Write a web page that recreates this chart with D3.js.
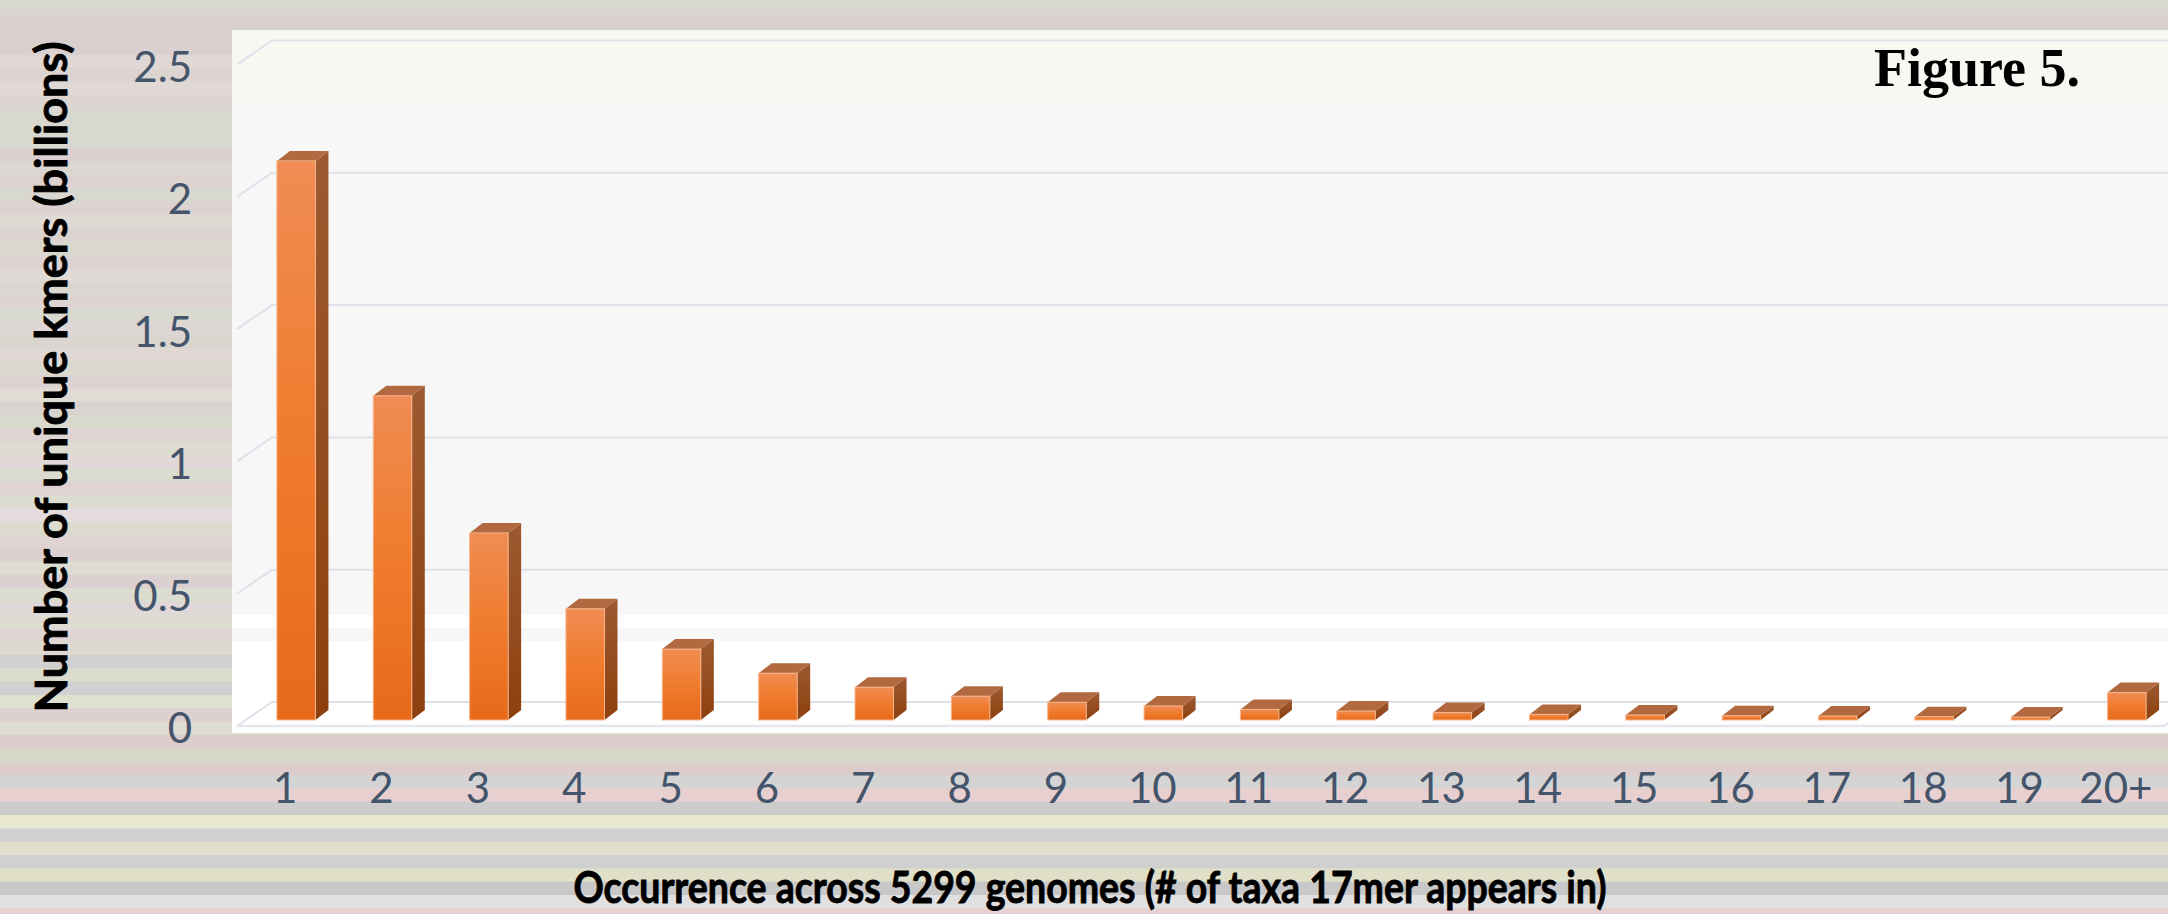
<!DOCTYPE html>
<html>
<head>
<meta charset="utf-8">
<script src="https://cdn.jsdelivr.net/npm/d3@7"></script>
<style>
  body { margin: 0; background: #d9d5d0; }
  svg { display: block; }
</style>
</head>
<body>
<svg id="bar-svg" width="2168" height="914"></svg>
<script>
// ---- data ----
const categories = ['1', '2', '3', '4', '5', '6', '7', '8', '9', '10',
  '11', '12', '13', '14', '15', '16', '17', '18', '19', '20+'];
const counts = [2.113, 1.225, 0.707, 0.42, 0.268, 0.177, 0.124, 0.09, 0.067, 0.053,
  0.040, 0.034, 0.028, 0.021, 0.019, 0.016, 0.015, 0.0125, 0.011, 0.104];
const yTicks = [0, 0.5, 1, 1.5, 2, 2.5];
const xTitle = 'Occurrence across 5299 genomes (# of taxa 17mer appears in)';
const yTitle = 'Number of unique kmers (billions)';
const figureLabel = 'Figure 5.';

// background stripes (top to bottom)
const stripeColors = [
  '#d8d8d0', '#d8d8d0', '#d9cfcf', '#d9cfcf', '#dad0d0', '#e0d8d4', '#dcd4d0', '#e0d8d4',
  '#dcd4d0', '#d8d8d0', '#d8d8d0', '#d9d8d0', '#dcd0d0', '#dad8d0', '#ddd2d0', '#d9d8d0',
  '#dcd2d1', '#e0dad4', '#dcd3d0', '#d9d8cf', '#ddd3d2', '#e0dad6', '#dad6d0', '#ddd3d1',
  '#d9d9d0', '#ded6d4', '#dad6cf', '#e0d6d4', '#d9d9cf', '#dcd2d2', '#e0dcd4', '#dad2d0',
  '#d8d8cc', '#ded4d4', '#dcdcd0', '#e2d8d8', '#dadace', '#e0d2d2', '#dcdcd0', '#e4dcdc',
  '#dcdcce', '#dfd3d3', '#dcd0d0', '#dcdcd0', '#dcd0d0', '#dcdcd0', '#e0d8d8', '#dedcd0',
  '#e0d4d4', '#ddd8d0', '#d0d0d0', '#dcdccc', '#d0d0d0', '#e0e0d0', '#ddd0d0', '#dcdcd0',
  '#dccccc', '#d8d8c8', '#dccccc', '#d4d4d4', '#e8d0d0', '#cccccc', '#e8e8d0', '#d0d0d0',
  '#e0e0cc', '#d0d0d0', '#e0e0c8', '#c8c8c8', '#e0e0e0', '#e8d0d0'
];

// ---- 3D projection constants ----
const floor = { dx: 35, dy: 24 };      // depth of the floor
const barShift = { dx: 11, dy: 6 };    // front face of bars, behind the floor front
const barDepth = { dx: 13, dy: 10 };   // depth of each bar

const svg = d3.select('#bar-svg');

const xScale = d3.scaleBand().domain(categories).range([237, 2164]).padding(0);
const yScale = d3.scaleLinear().domain([0, 2.5]).range([726, 64.5]);
const barWidth = xScale.bandwidth() / 2.5;

/**
 * Paints the striped backdrop
 */
function drawBackground() {
  const h = 40 / 3;
  svg.append('g')
    .selectAll('rect')
    .data(stripeColors)
    .enter()
    .append('rect')
    .attr('x', 0)
    .attr('y', (d, i) => -11.63 + i * h)
    .attr('width', 2168)
    .attr('height', h + 0.5)
    .attr('fill', (d) => d);
}

/**
 * Plot area, back wall, gridlines and floor
 */
function drawWalls() {
  const g = svg.append('g');
  g.append('rect').attr('x', 232).attr('y', 30).attr('width', 1940).attr('height', 703)
    .attr('fill', '#ffffff');
  g.append('rect').attr('x', 232).attr('y', 30).attr('width', 1940).attr('height', 77)
    .attr('fill', '#f8f8f3');
  g.append('rect').attr('x', 232).attr('y', 107).attr('width', 1940).attr('height', 508)
    .attr('fill', '#f7f7f7');
  g.append('rect').attr('x', 232).attr('y', 628).attr('width', 1940).attr('height', 13)
    .attr('fill', '#f7f7f7');

  // gridlines on side + back wall
  g.selectAll('path.grid')
    .data(yTicks)
    .enter()
    .append('path')
    .attr('class', 'grid')
    .attr('fill', 'none')
    .attr('stroke', '#dde1e9')
    .attr('stroke-width', 2)
    .attr('d', (v) => {
      const y = yScale(v);
      return `M237,${y}L${237 + floor.dx},${y - floor.dy}L2200,${y - floor.dy}`;
    });

  // floor front edge
  const yf = yScale(0);
  g.append('path')
    .attr('fill', 'none')
    .attr('stroke', '#e6e7ee')
    .attr('stroke-width', 2.5)
    .attr('d', `M237,${yf}L2164,${yf}L${2164 + floor.dx},${yf - floor.dy}`);
}

/**
 * Draws the 3D columns
 */
function drawBars() {
  const defs = svg.append('defs');
  const front = defs.append('linearGradient').attr('id', 'front-grad')
    .attr('x1', 0).attr('y1', 0).attr('x2', 0).attr('y2', 1);
  front.append('stop').attr('offset', 0).attr('stop-color', '#f08c54');
  front.append('stop').attr('offset', 0.45).attr('stop-color', '#f07d30');
  front.append('stop').attr('offset', 1).attr('stop-color', '#e76a1a');

  const side = defs.append('linearGradient').attr('id', 'side-grad')
    .attr('x1', 0).attr('y1', 0).attr('x2', 0).attr('y2', 1);
  side.append('stop').attr('offset', 0).attr('stop-color', '#9c5a30');
  side.append('stop').attr('offset', 1).attr('stop-color', '#8d3f0e');

  const data = categories.map((c, i) => ({ cat: c, value: counts[i] }));
  const bars = svg.append('g')
    .selectAll('g')
    .data(data)
    .enter()
    .append('g');

  const x0 = (d) => xScale(d.cat) + (xScale.bandwidth() - barWidth) / 2 + barShift.dx;
  const yTop = (d) => yScale(d.value) - barShift.dy;
  const yBot = yScale(0) - barShift.dy;

  bars.append('path')
    .attr('fill', 'url(#side-grad)')
    .attr('d', (d) => {
      const x = x0(d) + barWidth;
      const t = yTop(d);
      return `M${x},${t}L${x + barDepth.dx},${t - barDepth.dy}L${x + barDepth.dx},${yBot - barDepth.dy}L${x},${yBot}Z`;
    });

  bars.append('path')
    .attr('fill', '#b2693f')
    .attr('d', (d) => {
      const x = x0(d);
      const t = yTop(d);
      return `M${x},${t}L${x + barDepth.dx},${t - barDepth.dy}L${x + barWidth + barDepth.dx},${t - barDepth.dy}L${x + barWidth},${t}Z`;
    });

  bars.append('rect')
    .attr('fill', 'url(#front-grad)')
    .attr('stroke', '#f6b58c')
    .attr('stroke-width', 1)
    .attr('x', x0)
    .attr('y', yTop)
    .attr('width', barWidth)
    .attr('height', (d) => yBot - yTop(d));
}

/**
 * Adds the axes tick labels
 */
function addAxes() {
  const yAxis = svg.append('g')
    .attr('transform', 'translate(200,3.5)')
    .call(d3.axisLeft(yScale).tickValues(yTicks).tickSize(0).tickPadding(8)
      .tickFormat(d3.format('')));
  yAxis.select('.domain').remove();

  const xAxis = svg.append('g')
    .attr('transform', 'translate(0,773)')
    .call(d3.axisBottom(xScale).tickSize(0).tickPadding(0));
  xAxis.select('.domain').remove();

  svg.selectAll('.tick text')
    .attr('font-family', 'Lato, "Open Sans", sans-serif')
    .attr('font-size', 42)
    .attr('fill', '#44546a');
}

/**
 * Adds axis titles and the figure label
 */
function addTitles() {
  svg.append('text')
    .attr('x', 1090)
    .attr('y', 903)
    .attr('text-anchor', 'middle')
    .attr('font-family', 'Lato, "Open Sans", sans-serif')
    .attr('font-weight', 'bold')
    .attr('font-size', 43)
    .attr('textLength', 1033)
    .attr('lengthAdjust', 'spacingAndGlyphs')
    .attr('fill', '#000')
    .attr('stroke', '#000')
    .attr('stroke-width', 0.9)
    .text(xTitle);

  svg.append('text')
    .attr('transform', 'translate(67,377) rotate(-90)')
    .attr('text-anchor', 'middle')
    .attr('font-family', 'Lato, "Open Sans", sans-serif')
    .attr('font-weight', 'bold')
    .attr('font-size', 43)
    .attr('textLength', 671)
    .attr('lengthAdjust', 'spacingAndGlyphs')
    .attr('fill', '#000')
    .attr('stroke', '#000')
    .attr('stroke-width', 0.9)
    .text(yTitle);

  svg.append('text')
    .attr('x', 2080)
    .attr('y', 86)
    .attr('text-anchor', 'end')
    .attr('font-family', '"Liberation Serif", "Times New Roman", serif')
    .attr('font-weight', 'bold')
    .attr('font-size', 54)
    .attr('fill', '#000')
    .text(figureLabel);
}

drawBackground();
drawWalls();
drawBars();
addAxes();
addTitles();
</script>
</body>
</html>
